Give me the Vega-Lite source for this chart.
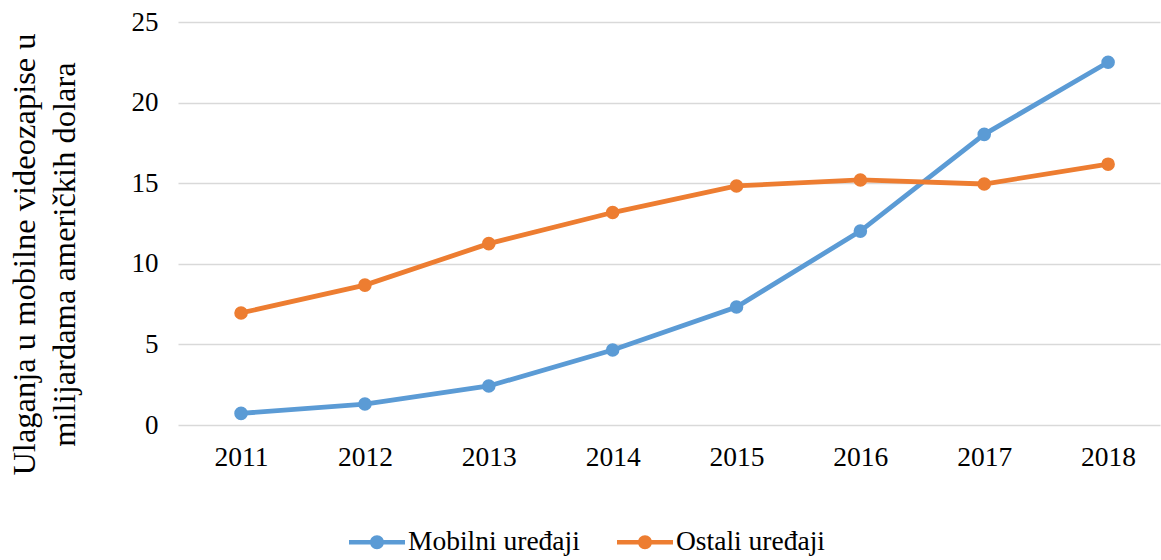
{
  "$schema": "https://vega.github.io/schema/vega-lite/v6.json",
  "width": 982,
  "height": 403,
  "autosize": {"type": "none"},
  "padding": {"left": 178, "top": 22, "right": 1, "bottom": 135},
  "background": "white",
  "config": {
    "view": {"stroke": null},
    "font": "Liberation Serif",
    "text": {"font": "Liberation Serif"},
    "axis": {"labelFont": "Liberation Serif", "titleFont": "Liberation Serif", "labelColor": "#000", "titleColor": "#000"},
    "legend": {"labelFont": "Liberation Serif", "labelColor": "#000"}
  },
  "data": {
    "values": [
      {"year": 2011, "series": "Mobilni uređaji", "value": 0.72},
      {"year": 2012, "series": "Mobilni uređaji", "value": 1.3},
      {"year": 2013, "series": "Mobilni uređaji", "value": 2.42},
      {"year": 2014, "series": "Mobilni uređaji", "value": 4.65},
      {"year": 2015, "series": "Mobilni uređaji", "value": 7.32},
      {"year": 2016, "series": "Mobilni uređaji", "value": 12.03},
      {"year": 2017, "series": "Mobilni uređaji", "value": 18.03},
      {"year": 2018, "series": "Mobilni uređaji", "value": 22.5},
      {"year": 2011, "series": "Ostali uređaji", "value": 6.95},
      {"year": 2012, "series": "Ostali uređaji", "value": 8.68},
      {"year": 2013, "series": "Ostali uređaji", "value": 11.25},
      {"year": 2014, "series": "Ostali uređaji", "value": 13.18},
      {"year": 2015, "series": "Ostali uređaji", "value": 14.83},
      {"year": 2016, "series": "Ostali uređaji", "value": 15.2},
      {"year": 2017, "series": "Ostali uređaji", "value": 14.95},
      {"year": 2018, "series": "Ostali uređaji", "value": 16.18}
    ]
  },
  "encoding": {
    "x": {
      "field": "year", "type": "quantitative",
      "scale": {"domain": [2010.491, 2018.419], "nice": false, "zero": false},
      "axis": {"values": [2011, 2012, 2013, 2014, 2015, 2016, 2017, 2018], "format": "d", "title": null, "grid": false, "domain": false, "ticks": false, "labelFont": "Liberation Serif", "labelFontSize": 27.5, "labelPadding": 18}
    },
    "y": {
      "field": "value", "type": "quantitative",
      "scale": {"domain": [0, 25], "nice": false},
      "axis": {
        "values": [0, 5, 10, 15, 20, 25],
        "title": ["Ulaganja u mobilne videozapise u", "milijardama američkih dolara"],
        "titleFont": "Liberation Serif",
        "titleFontSize": 32.5, "titleFontWeight": "normal", "titleLineHeight": 40,
        "titleX": -137, "titleY": 232,
        "grid": true, "gridColor": "#d9d9d9", "gridWidth": 1.5,
        "domain": false, "ticks": false, "labelFont": "Liberation Serif", "labelFontSize": 27, "labelPadding": 20
      }
    },
    "color": {
      "field": "series", "type": "nominal",
      "scale": {"domain": ["Mobilni uređaji", "Ostali uređaji"], "range": ["#5B9BD5", "#ED7D31"]},
      "legend": {
        "title": null, "orient": "none", "direction": "horizontal",
        "legendX": 171, "legendY": 492,
        "labelFont": "Liberation Serif", "labelLimit": 400,
        "labelFontSize": 27.5, "labelOffset": 3, "columnPadding": 37,
        "symbolType": "M-1,-0.08 H1 V0.08 H-1 Z M0.25,0 A0.25,0.25 0 1,1 -0.25,0 A0.25,0.25 0 1,1 0.25,0 Z",
        "symbolSize": 3136, "symbolStrokeWidth": 0
      }
    }
  },
  "layer": [
    {"mark": {"type": "line", "strokeWidth": 4.8}},
    {"mark": {"type": "point", "filled": true, "opacity": 1, "size": 185}}
  ]
}
